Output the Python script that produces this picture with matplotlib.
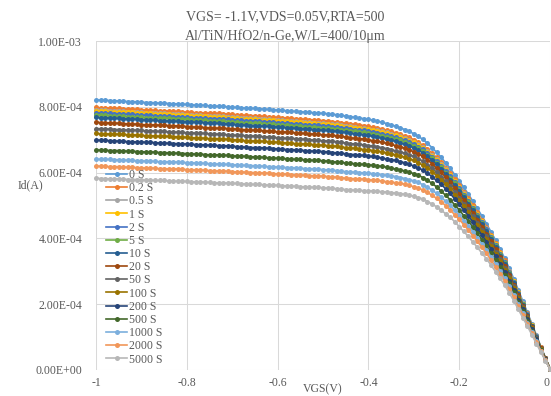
import numpy as np
import matplotlib
matplotlib.use('Agg')
import matplotlib.pyplot as plt

plt.rcParams['font.family'] = ['Liberation Serif', 'DejaVu Serif']
plt.rcParams['axes.unicode_minus'] = False

# VGS sweep -1 V -> 0 V, 0.01 V step
vgs = np.round(np.linspace(-1.0, 0.0, 101), 2)

# Id, unit 1e-4 A
id_0s = [8.21, 8.20, 8.20, 8.19, 8.18, 8.18, 8.17, 8.16, 8.16, 8.15,
         8.14, 8.13, 8.13, 8.12, 8.11, 8.11, 8.10, 8.09, 8.09, 8.08,
         8.07, 8.06, 8.05, 8.05, 8.04, 8.03, 8.02, 8.02, 8.01, 8.00,
         7.99, 7.98, 7.97, 7.96, 7.95, 7.95, 7.94, 7.93, 7.92, 7.91,
         7.90, 7.89, 7.88, 7.87, 7.86, 7.85, 7.84, 7.83, 7.82, 7.81,
         7.80, 7.79, 7.77, 7.76, 7.74, 7.72, 7.70, 7.68, 7.66, 7.64,
         7.62, 7.59, 7.56, 7.53, 7.49, 7.45, 7.41, 7.36, 7.31, 7.25,
         7.18, 7.10, 7.01, 6.89, 6.76, 6.62, 6.47, 6.30, 6.13, 5.94,
         5.75, 5.55, 5.35, 5.13, 4.91, 4.68, 4.45, 4.20, 3.95, 3.68,
         3.40, 3.10, 2.78, 2.44, 2.10, 1.76, 1.41, 1.06, 0.71, 0.37,
         0.04]
id_02s = [7.98, 7.97, 7.97, 7.96, 7.95, 7.95, 7.94, 7.93, 7.93, 7.92,
          7.91, 7.90, 7.90, 7.89, 7.88, 7.88, 7.87, 7.86, 7.86, 7.85,
          7.84, 7.83, 7.82, 7.82, 7.81, 7.81, 7.80, 7.80, 7.79, 7.78,
          7.77, 7.76, 7.75, 7.74, 7.73, 7.73, 7.72, 7.71, 7.70, 7.69,
          7.68, 7.67, 7.66, 7.65, 7.64, 7.63, 7.62, 7.61, 7.60, 7.59,
          7.58, 7.57, 7.55, 7.54, 7.52, 7.50, 7.48, 7.47, 7.45, 7.43,
          7.41, 7.38, 7.36, 7.33, 7.29, 7.25, 7.21, 7.16, 7.12, 7.07,
          7.00, 6.92, 6.83, 6.72, 6.59, 6.46, 6.32, 6.15, 5.99, 5.80,
          5.62, 5.42, 5.23, 5.01, 4.79, 4.57, 4.35, 4.10, 3.86, 3.60,
          3.33, 3.02, 2.71, 2.38, 2.05, 1.72, 1.38, 1.04, 0.69, 0.36,
          0.04]
id_05s = [7.90, 7.89, 7.89, 7.88, 7.87, 7.87, 7.86, 7.85, 7.85, 7.84,
          7.83, 7.82, 7.82, 7.81, 7.80, 7.80, 7.79, 7.78, 7.78, 7.77,
          7.76, 7.75, 7.74, 7.74, 7.73, 7.72, 7.72, 7.72, 7.71, 7.70,
          7.69, 7.68, 7.67, 7.66, 7.65, 7.65, 7.64, 7.63, 7.62, 7.61,
          7.60, 7.59, 7.58, 7.57, 7.56, 7.55, 7.54, 7.53, 7.52, 7.51,
          7.50, 7.49, 7.47, 7.47, 7.45, 7.43, 7.41, 7.39, 7.37, 7.35,
          7.34, 7.31, 7.28, 7.25, 7.22, 7.18, 7.15, 7.10, 7.05, 6.99,
          6.93, 6.86, 6.77, 6.66, 6.53, 6.40, 6.26, 6.10, 5.94, 5.75,
          5.57, 5.38, 5.18, 4.96, 4.75, 4.53, 4.31, 4.07, 3.83, 3.56,
          3.29, 3.00, 2.69, 2.37, 2.03, 1.70, 1.37, 1.03, 0.68, 0.36,
          0.04]
id_1s = [7.87, 7.86, 7.86, 7.85, 7.84, 7.84, 7.83, 7.83, 7.83, 7.82,
         7.81, 7.80, 7.80, 7.79, 7.78, 7.78, 7.77, 7.76, 7.76, 7.75,
         7.74, 7.73, 7.72, 7.72, 7.71, 7.70, 7.69, 7.69, 7.68, 7.67,
         7.66, 7.65, 7.64, 7.63, 7.62, 7.62, 7.61, 7.60, 7.60, 7.59,
         7.58, 7.57, 7.56, 7.55, 7.54, 7.53, 7.52, 7.51, 7.50, 7.49,
         7.48, 7.47, 7.45, 7.44, 7.42, 7.40, 7.38, 7.37, 7.35, 7.33,
         7.32, 7.29, 7.26, 7.23, 7.19, 7.15, 7.13, 7.08, 7.03, 6.97,
         6.92, 6.84, 6.75, 6.64, 6.51, 6.39, 6.24, 6.08, 5.92, 5.74,
         5.55, 5.36, 5.17, 4.96, 4.74, 4.52, 4.30, 4.06, 3.82, 3.56,
         3.28, 2.99, 2.69, 2.36, 2.02, 1.70, 1.36, 1.03, 0.68, 0.35,
         0.04]
id_2s = [7.82, 7.81, 7.81, 7.80, 7.79, 7.79, 7.78, 7.77, 7.77, 7.76,
         7.75, 7.74, 7.74, 7.73, 7.72, 7.72, 7.71, 7.70, 7.70, 7.69,
         7.68, 7.67, 7.66, 7.66, 7.65, 7.64, 7.64, 7.64, 7.63, 7.62,
         7.61, 7.60, 7.59, 7.58, 7.57, 7.57, 7.56, 7.55, 7.54, 7.53,
         7.52, 7.51, 7.50, 7.49, 7.48, 7.47, 7.46, 7.45, 7.44, 7.44,
         7.43, 7.42, 7.40, 7.39, 7.37, 7.35, 7.33, 7.31, 7.29, 7.28,
         7.26, 7.24, 7.21, 7.18, 7.14, 7.11, 7.07, 7.03, 6.98, 6.93,
         6.87, 6.79, 6.71, 6.60, 6.48, 6.34, 6.21, 6.05, 5.89, 5.70,
         5.52, 5.33, 5.13, 4.92, 4.71, 4.50, 4.28, 4.03, 3.79, 3.53,
         3.27, 2.98, 2.67, 2.34, 2.02, 1.69, 1.35, 1.02, 0.68, 0.35,
         0.04]
id_5s = [7.75, 7.74, 7.74, 7.73, 7.72, 7.72, 7.71, 7.70, 7.70, 7.69,
         7.68, 7.67, 7.67, 7.66, 7.66, 7.66, 7.65, 7.64, 7.64, 7.63,
         7.62, 7.61, 7.60, 7.60, 7.59, 7.58, 7.57, 7.57, 7.56, 7.55,
         7.54, 7.53, 7.52, 7.51, 7.50, 7.50, 7.50, 7.49, 7.48, 7.47,
         7.46, 7.45, 7.44, 7.43, 7.42, 7.41, 7.40, 7.39, 7.38, 7.37,
         7.36, 7.35, 7.33, 7.33, 7.31, 7.29, 7.27, 7.25, 7.23, 7.22,
         7.20, 7.17, 7.15, 7.12, 7.09, 7.05, 7.02, 6.98, 6.93, 6.87,
         6.82, 6.74, 6.66, 6.54, 6.43, 6.30, 6.16, 6.00, 5.85, 5.67,
         5.48, 5.29, 5.10, 4.89, 4.69, 4.46, 4.24, 4.00, 3.77, 3.51,
         3.24, 2.96, 2.65, 2.32, 2.00, 1.68, 1.34, 1.01, 0.68, 0.35,
         0.04]
id_10s = [7.68, 7.67, 7.67, 7.66, 7.65, 7.65, 7.64, 7.63, 7.63, 7.62,
          7.61, 7.60, 7.60, 7.59, 7.58, 7.58, 7.57, 7.56, 7.56, 7.55,
          7.55, 7.54, 7.53, 7.53, 7.52, 7.51, 7.50, 7.50, 7.49, 7.48,
          7.47, 7.46, 7.45, 7.44, 7.43, 7.43, 7.42, 7.41, 7.41, 7.40,
          7.39, 7.38, 7.37, 7.36, 7.35, 7.34, 7.33, 7.32, 7.31, 7.30,
          7.29, 7.28, 7.27, 7.26, 7.24, 7.22, 7.20, 7.18, 7.17, 7.15,
          7.13, 7.11, 7.08, 7.06, 7.02, 6.99, 6.96, 6.91, 6.86, 6.82,
          6.75, 6.68, 6.60, 6.49, 6.38, 6.25, 6.11, 5.95, 5.79, 5.61,
          5.44, 5.25, 5.06, 4.86, 4.64, 4.43, 4.21, 3.98, 3.73, 3.48,
          3.22, 2.93, 2.63, 2.31, 1.98, 1.67, 1.34, 1.00, 0.67, 0.35,
          0.04]
id_20s = [7.53, 7.52, 7.52, 7.51, 7.50, 7.50, 7.49, 7.48, 7.48, 7.47,
          7.46, 7.45, 7.45, 7.45, 7.44, 7.44, 7.43, 7.42, 7.42, 7.41,
          7.40, 7.39, 7.38, 7.38, 7.37, 7.36, 7.35, 7.35, 7.35, 7.34,
          7.33, 7.32, 7.31, 7.30, 7.29, 7.29, 7.28, 7.27, 7.26, 7.25,
          7.24, 7.24, 7.23, 7.22, 7.21, 7.20, 7.19, 7.18, 7.17, 7.16,
          7.15, 7.14, 7.13, 7.12, 7.10, 7.08, 7.06, 7.04, 7.03, 7.02,
          7.00, 6.97, 6.95, 6.93, 6.89, 6.86, 6.82, 6.79, 6.74, 6.70,
          6.63, 6.57, 6.49, 6.39, 6.27, 6.14, 6.01, 5.86, 5.70, 5.53,
          5.35, 5.17, 4.99, 4.77, 4.57, 4.36, 4.14, 3.91, 3.68, 3.42,
          3.17, 2.88, 2.59, 2.27, 1.96, 1.63, 1.31, 0.98, 0.66, 0.35,
          0.04]
id_50s = [7.34, 7.33, 7.33, 7.32, 7.31, 7.31, 7.30, 7.29, 7.29, 7.29,
          7.28, 7.27, 7.27, 7.26, 7.25, 7.25, 7.24, 7.23, 7.23, 7.22,
          7.21, 7.21, 7.20, 7.20, 7.19, 7.18, 7.17, 7.17, 7.16, 7.15,
          7.14, 7.13, 7.13, 7.12, 7.11, 7.11, 7.10, 7.09, 7.08, 7.07,
          7.06, 7.05, 7.04, 7.04, 7.03, 7.02, 7.01, 7.00, 6.99, 6.98,
          6.97, 6.96, 6.95, 6.94, 6.92, 6.90, 6.88, 6.87, 6.86, 6.84,
          6.82, 6.81, 6.78, 6.76, 6.73, 6.70, 6.66, 6.63, 6.59, 6.54,
          6.49, 6.42, 6.35, 6.24, 6.13, 6.02, 5.88, 5.73, 5.59, 5.42,
          5.24, 5.06, 4.88, 4.68, 4.48, 4.26, 4.06, 3.83, 3.60, 3.36,
          3.10, 2.83, 2.54, 2.22, 1.92, 1.60, 1.29, 0.97, 0.64, 0.34,
          0.04]
id_100s = [7.19, 7.18, 7.18, 7.17, 7.17, 7.17, 7.16, 7.15, 7.15, 7.14,
           7.13, 7.12, 7.12, 7.11, 7.10, 7.10, 7.10, 7.09, 7.09, 7.08,
           7.07, 7.06, 7.05, 7.05, 7.04, 7.03, 7.03, 7.03, 7.02, 7.01,
           7.00, 6.99, 6.98, 6.97, 6.96, 6.96, 6.95, 6.95, 6.94, 6.93,
           6.92, 6.91, 6.90, 6.89, 6.88, 6.88, 6.87, 6.86, 6.85, 6.84,
           6.83, 6.82, 6.81, 6.80, 6.78, 6.76, 6.75, 6.74, 6.72, 6.70,
           6.70, 6.67, 6.65, 6.63, 6.60, 6.57, 6.54, 6.51, 6.46, 6.42,
           6.37, 6.30, 6.23, 6.14, 6.03, 5.91, 5.79, 5.64, 5.49, 5.32,
           5.16, 4.98, 4.80, 4.60, 4.40, 4.20, 3.99, 3.77, 3.54, 3.30,
           3.05, 2.79, 2.50, 2.19, 1.88, 1.58, 1.27, 0.95, 0.63, 0.33,
           0.04]
id_200s = [6.99, 6.98, 6.98, 6.97, 6.96, 6.96, 6.95, 6.94, 6.94, 6.93,
           6.93, 6.92, 6.92, 6.91, 6.90, 6.90, 6.89, 6.88, 6.88, 6.87,
           6.87, 6.86, 6.85, 6.85, 6.84, 6.83, 6.83, 6.82, 6.82, 6.81,
           6.80, 6.79, 6.78, 6.77, 6.76, 6.76, 6.76, 6.75, 6.74, 6.73,
           6.72, 6.71, 6.70, 6.70, 6.69, 6.68, 6.67, 6.66, 6.65, 6.65,
           6.64, 6.63, 6.61, 6.60, 6.59, 6.57, 6.55, 6.55, 6.53, 6.52,
           6.50, 6.49, 6.46, 6.45, 6.41, 6.39, 6.37, 6.33, 6.30, 6.25,
           6.20, 6.14, 6.08, 5.98, 5.88, 5.76, 5.65, 5.51, 5.37, 5.20,
           5.04, 4.86, 4.69, 4.50, 4.30, 4.10, 3.90, 3.68, 3.46, 3.22,
           2.98, 2.72, 2.44, 2.14, 1.84, 1.54, 1.24, 0.93, 0.62, 0.32,
           0.03]
id_500s = [6.69, 6.68, 6.68, 6.67, 6.67, 6.67, 6.66, 6.65, 6.65, 6.64,
           6.63, 6.63, 6.63, 6.62, 6.61, 6.61, 6.60, 6.59, 6.59, 6.58,
           6.58, 6.57, 6.56, 6.56, 6.55, 6.54, 6.54, 6.54, 6.53, 6.52,
           6.51, 6.50, 6.50, 6.49, 6.48, 6.48, 6.47, 6.46, 6.45, 6.44,
           6.44, 6.43, 6.42, 6.41, 6.40, 6.40, 6.39, 6.38, 6.37, 6.37,
           6.36, 6.35, 6.33, 6.32, 6.31, 6.29, 6.28, 6.27, 6.25, 6.25,
           6.24, 6.22, 6.20, 6.19, 6.16, 6.13, 6.11, 6.08, 6.05, 6.01,
           5.97, 5.92, 5.85, 5.77, 5.67, 5.57, 5.44, 5.31, 5.18, 5.02,
           4.87, 4.69, 4.53, 4.34, 4.15, 3.96, 3.77, 3.55, 3.34, 3.12,
           2.88, 2.63, 2.36, 2.07, 1.78, 1.49, 1.19, 0.89, 0.60, 0.31,
           0.03]
id_1000s = [6.41, 6.40, 6.40, 6.40, 6.39, 6.39, 6.38, 6.37, 6.37, 6.36,
            6.36, 6.35, 6.35, 6.34, 6.33, 6.33, 6.33, 6.32, 6.32, 6.31,
            6.30, 6.30, 6.29, 6.29, 6.28, 6.27, 6.26, 6.26, 6.25, 6.25,
            6.24, 6.23, 6.22, 6.22, 6.21, 6.21, 6.20, 6.19, 6.18, 6.18,
            6.17, 6.16, 6.15, 6.15, 6.14, 6.13, 6.12, 6.11, 6.11, 6.10,
            6.09, 6.08, 6.07, 6.06, 6.04, 6.03, 6.02, 6.01, 6.00, 5.99,
            5.98, 5.97, 5.95, 5.94, 5.92, 5.90, 5.88, 5.85, 5.82, 5.78,
            5.75, 5.70, 5.63, 5.55, 5.47, 5.37, 5.26, 5.13, 5.01, 4.86,
            4.70, 4.54, 4.38, 4.20, 4.01, 3.83, 3.65, 3.44, 3.23, 3.01,
            2.79, 2.54, 2.27, 2.00, 1.72, 1.44, 1.15, 0.87, 0.58, 0.30,
            0.03]
id_2000s = [6.20, 6.19, 6.19, 6.18, 6.18, 6.18, 6.17, 6.16, 6.16, 6.15,
            6.14, 6.14, 6.14, 6.13, 6.12, 6.12, 6.11, 6.11, 6.11, 6.10,
            6.09, 6.08, 6.08, 6.08, 6.07, 6.06, 6.05, 6.05, 6.05, 6.04,
            6.03, 6.02, 6.02, 6.01, 6.00, 6.00, 5.99, 5.99, 5.98, 5.97,
            5.96, 5.96, 5.95, 5.94, 5.93, 5.93, 5.92, 5.91, 5.90, 5.90,
            5.89, 5.88, 5.87, 5.86, 5.84, 5.83, 5.82, 5.81, 5.80, 5.80,
            5.78, 5.77, 5.76, 5.75, 5.72, 5.71, 5.69, 5.67, 5.65, 5.61,
            5.57, 5.53, 5.47, 5.40, 5.31, 5.22, 5.11, 5.00, 4.87, 4.72,
            4.58, 4.42, 4.26, 4.08, 3.91, 3.73, 3.55, 3.34, 3.14, 2.93,
            2.71, 2.47, 2.22, 1.94, 1.68, 1.40, 1.12, 0.84, 0.57, 0.30,
            0.03]
id_5000s = [5.83, 5.82, 5.82, 5.81, 5.81, 5.81, 5.80, 5.79, 5.79, 5.79,
            5.78, 5.77, 5.77, 5.76, 5.76, 5.76, 5.75, 5.74, 5.74, 5.74,
            5.73, 5.72, 5.72, 5.72, 5.71, 5.70, 5.69, 5.69, 5.69, 5.68,
            5.67, 5.67, 5.66, 5.65, 5.64, 5.64, 5.64, 5.63, 5.62, 5.62,
            5.61, 5.60, 5.59, 5.59, 5.58, 5.57, 5.57, 5.56, 5.55, 5.55,
            5.54, 5.53, 5.52, 5.51, 5.50, 5.48, 5.48, 5.46, 5.46, 5.45,
            5.45, 5.44, 5.43, 5.42, 5.41, 5.39, 5.38, 5.36, 5.34, 5.31,
            5.28, 5.24, 5.20, 5.12, 5.05, 4.96, 4.86, 4.75, 4.64, 4.51,
            4.36, 4.21, 4.06, 3.89, 3.73, 3.55, 3.38, 3.19, 2.99, 2.79,
            2.58, 2.35, 2.11, 1.85, 1.59, 1.34, 1.07, 0.80, 0.54, 0.28,
            0.03]

series = [id_0s, id_02s, id_05s, id_1s, id_2s, id_5s, id_10s, id_20s,
          id_50s, id_100s, id_200s, id_500s, id_1000s, id_2000s, id_5000s]
labels = ['0 S', '0.2 S', '0.5 S', '1 S', '2 S', '5 S', '10 S', '20 S',
          '50 S', '100 S', '200 S', '500 S', '1000 S', '2000 S', '5000 S']
colors = ['#5B9BD5', '#ED7D31', '#A5A5A5', '#FFC000', '#4472C4', '#70AD47',
          '#255E91', '#9E480E', '#636363', '#997300', '#264478', '#43682B',
          '#7CAFDD', '#F1975A', '#B7B7B7']

xticks = [-1, -0.8, -0.6, -0.4, -0.2, 0]
xtick_labels = ['-1', '-0.8', '-0.6', '-0.4', '-0.2', '0']
yticks = [0, 2e-4, 4e-4, 6e-4, 8e-4, 1e-3]
ytick_labels = ['0.00E+00', '2.00E-04', '4.00E-04', '6.00E-04', '8.00E-04', '1.00E-03']

W, H = 551, 396
fig = plt.figure(figsize=(W / 100, H / 100), dpi=100)
ax = fig.add_axes([96 / W, 1 - 370 / H, 454 / W, 329 / H])

for vals, lab, c in zip(series, labels, colors):
    ax.plot(vgs, np.array(vals) * 1e-4, '-o', color=c, lw=1.2, ms=3.6,
            mew=0, label=lab, clip_on=False)

ax.set_xlim(-1, 0)
ax.set_ylim(0, 1e-3)
ax.set_xticks(xticks)
ax.set_xticklabels(xtick_labels)
ax.get_xticklabels()[-1].set_ha('right')
ax.set_yticks(yticks)
ax.set_yticklabels(ytick_labels)
ax.grid(True, color='#D9D9D9', lw=0.75)
ax.set_axisbelow(True)
for s in ax.spines.values():
    s.set_visible(False)
ax.tick_params(length=0, labelsize=8.5, labelcolor='#595959')
ax.tick_params(axis='y', pad=10)
ax.tick_params(axis='x', pad=5)

ax.legend(loc='upper left', bbox_to_anchor=(106 / W, 1 - 169 / H),
          bbox_transform=fig.transFigure, frameon=False, fontsize=8.5,
          handlelength=1.8, handletextpad=0.15, labelspacing=0.1,
          borderpad=0, borderaxespad=0, labelcolor='#595959')

fig.text(285 / W, 1 - 17 / H, 'VGS= -1.1V,VDS=0.05V,RTA=500',
         ha='center', va='center', fontsize=10, color='#595959')
fig.text(285 / W, 1 - 36 / H, 'Al/TiN/HfO2/n-Ge,W/L=400/10μm',
         ha='center', va='center', fontsize=10, color='#595959')
fig.text(323 / W, 1 - 389 / H, 'VGS(V)', ha='center', va='center',
         fontsize=8.5, color='#595959')
fig.text(30 / W, 1 - 185 / H, 'Id(A)', ha='center', va='center',
         fontsize=8.5, color='#595959')

fig.savefig('out.png', dpi=100)
